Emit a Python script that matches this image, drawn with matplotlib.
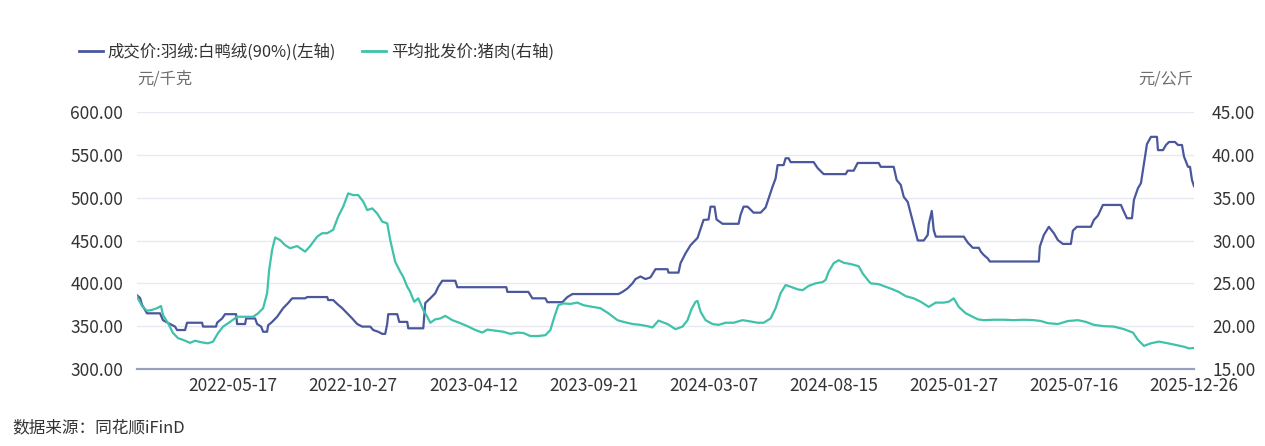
import numpy as np
import matplotlib.pyplot as plt
from matplotlib.lines import Line2D

plt.rcParams['font.family'] = ['Noto Sans CJK SC', 'DejaVu Sans']

# x = position on the source's category axis (one step per observation)
tick_pos = [96, 216, 336, 456, 576, 696, 816, 936, 1056]
tick_lbl = ['2022-05-17', '2022-10-27', '2023-04-12', '2023-09-21', '2024-03-07',
            '2024-08-15', '2025-01-27', '2025-07-16', '2025-12-26']

# 成交价:羽绒:白鸭绒(90%), 元/千克 (left axis)
down_x = [0, 3, 5, 10, 23, 26, 33, 38, 40, 48, 50, 65, 66, 79, 80, 85, 88, 99, 100, 108,
          109, 118, 120, 124, 126, 130, 131, 135, 140, 143, 146, 151, 155, 168, 170, 190,
          191, 196, 200, 205, 210, 215, 220, 225, 233, 236, 241, 245, 248, 250, 251, 260,
          262, 270, 271, 286, 288, 293, 298, 301, 305, 318, 320, 369, 370, 391, 395, 408,
          410, 425, 430, 435, 481, 485, 490, 495, 498, 503, 508, 513, 518, 530, 531, 541,
          543, 548, 553, 560, 566, 571, 573, 577, 579, 585, 601, 603, 606, 610, 616, 623,
          628, 631, 635, 638, 640, 646, 648, 651, 653, 676, 680, 686, 708, 710, 716, 720,
          741, 743, 756, 759, 763, 766, 770, 773, 777, 780, 786, 790, 791, 794, 796, 798,
          826, 830, 835, 841, 843, 846, 850, 852, 901, 902, 906, 911, 916, 920, 925, 933,
          935, 939, 953, 956, 960, 965, 983, 986, 989, 994, 996, 1000, 1003, 1006, 1009,
          1013, 1019, 1020, 1025, 1028, 1031, 1037, 1040, 1044, 1046, 1050, 1052, 1054,
          1056]
down_y = [386, 383, 375, 365, 365, 357, 352.5, 349.5, 345.5, 345.5, 354, 354, 349.5, 349.5,
          354, 359, 364, 364, 352.5, 352.5, 359, 359, 352.5, 349.5, 343.5, 343.5, 351, 355,
          361, 366, 371, 377, 382.5, 382.5, 384, 384, 380.5, 380.5, 376, 371, 365, 359,
          352.5, 349.5, 349.5, 345.5, 343.5, 341, 341, 353, 364, 364, 355, 355, 347.5, 347.5,
          377, 382.5, 388.5, 396, 403, 403, 395.5, 395.5, 390, 390, 382.5, 382.5, 378, 378,
          384, 387.5, 387.5, 390, 394, 400, 405, 408, 405, 407, 416.5, 416.5, 412.5, 412.5,
          423.5, 435, 444.5, 453, 474, 474.5, 489.5, 489.5, 474.5, 469.5, 469.5, 480, 489.5,
          489.5, 482.5, 482.5, 488.5, 499, 513, 522.5, 538, 538, 546, 546, 541.5, 541.5,
          534.5, 527.5, 527.5, 531.5, 531.5, 540.5, 540.5, 536, 536, 520.5, 515, 501, 495,
          481.5, 464, 450, 450, 456.5, 469, 484.5, 462, 454.5, 454.5, 447.5, 441.5, 441.5,
          437, 433, 429, 425.5, 425.5, 443, 456.5, 466, 458.5, 450.5, 446, 446, 461.5, 466,
          466, 474, 479, 491.5, 491.5, 483.5, 476, 476, 497.5, 511, 517, 540, 562.5, 571,
          571, 555.5, 555.5, 561.5, 565, 565, 561.5, 561.5, 548, 536, 536, 520.5, 513.5]

# 平均批发价:猪肉, 元/公斤 (right axis)
pork_x = [0, 5, 10, 15, 20, 24, 26, 31, 36, 41,
          46, 53, 58, 65, 71, 76, 81, 86, 93, 100,
          108, 116, 121, 126, 130, 132, 135, 138, 143, 148,
          153, 160, 163, 168, 173, 180, 185, 190, 196, 201,
          206, 211, 216, 221, 226, 230, 235, 240, 245, 250,
          253, 258, 263, 266, 270, 273, 275, 277, 281, 286,
          290, 293, 298, 303, 308, 315, 323, 331, 338, 345,
          350, 360, 366, 373, 380, 386, 393, 401, 408, 413,
          417, 421, 426, 433, 440, 446, 455, 463, 471, 480,
          486, 495, 503, 510, 515, 521, 530, 538, 545, 550,
          554, 558, 560, 563, 568, 575, 581, 588, 596, 605,
          613, 620, 626, 633, 638, 643, 648, 653, 660, 665,
          671, 678, 685, 688, 691, 696, 701, 706, 713, 721,
          725, 730, 733, 741, 748, 755, 761, 768, 776, 783,
          791, 798, 806, 811, 816, 821, 828, 835, 840, 846,
          856, 866, 876, 886, 896, 903, 910, 920, 930, 940,
          948, 956, 966, 976, 986, 995, 1000, 1006, 1013, 1021,
          1030, 1038, 1046, 1051, 1056]
pork_y = [23.45, 22.35, 21.8, 21.9, 22.1, 22.35, 21.3, 20.35, 19.2, 18.6,
          18.4, 18.05, 18.3, 18.1, 18.0, 18.2, 19.2, 19.95, 20.5, 21.1,
          21.1, 21.1, 21.5, 22.1, 23.85, 26.55, 28.9, 30.35, 30.05, 29.45,
          29.1, 29.35, 29.1, 28.7, 29.35, 30.45, 30.85, 30.85, 31.25, 32.8,
          33.95, 35.5, 35.3, 35.3, 34.55, 33.55, 33.75, 33.15, 32.2, 32.0,
          30.05, 27.5, 26.35, 25.75, 24.6, 24.0, 23.4, 22.85, 23.25, 21.9,
          21.1, 20.4, 20.8, 20.9, 21.2, 20.7, 20.35, 19.95, 19.55, 19.25,
          19.6, 19.45, 19.35, 19.1, 19.25, 19.2, 18.85, 18.85, 18.95, 19.55,
          21.1, 22.45, 22.65, 22.6, 22.75, 22.45, 22.25, 22.1, 21.5, 20.7,
          20.5, 20.25, 20.15, 20.0, 19.85, 20.65, 20.25, 19.65, 19.95, 20.7,
          22.0, 22.85, 22.95, 21.7, 20.7, 20.25, 20.15, 20.4, 20.4, 20.7,
          20.55, 20.4, 20.4, 20.9, 22.1, 23.85, 24.8, 24.6, 24.3, 24.2,
          24.7, 25.0, 25.15, 25.4, 26.35, 27.35, 27.7, 27.4, 27.25, 27.0,
          26.15, 25.4, 25.0, 24.9, 24.6, 24.3, 24.0, 23.5, 23.25, 22.85,
          22.25, 22.75, 22.75, 22.85, 23.25, 22.25, 21.5, 21.1, 20.8, 20.7,
          20.75, 20.75, 20.7, 20.75, 20.7, 20.6, 20.35, 20.25, 20.6, 20.7,
          20.5, 20.15, 20.0, 19.95, 19.65, 19.25, 18.4, 17.7, 18.0, 18.2,
          18.0, 17.8, 17.6, 17.4, 17.45]

left_ticks = [300, 350, 400, 450, 500, 550, 600]
right_ticks = [15, 20, 25, 30, 35, 40, 45]

BLUE = '#4a579c'
TEAL = '#3fc2a9'
TXT = '#333333'

fig = plt.figure(figsize=(12.65, 4.46), dpi=100)
ax = fig.add_axes([137 / 1265, 77 / 446, 1057 / 1265, 257 / 446])
ax2 = ax.twinx()

ax.plot(down_x, down_y, color=BLUE, lw=1.6, solid_joinstyle='round')
ax2.plot(pork_x, pork_y, color=TEAL, lw=1.6, solid_joinstyle='round')

ax.set_xlim(0, 1056)
ax.set_ylim(300, 600)
ax2.set_ylim(15, 45)
ax.set_yticks(left_ticks)
ax.set_yticklabels([f'{v:.2f}' for v in left_ticks])
ax2.set_yticks(right_ticks)
ax2.set_yticklabels([f'{v:.2f}' for v in right_ticks])
ax.set_xticks(tick_pos)
ax.set_xticklabels(tick_lbl)

ax.yaxis.grid(True, color='#e8e9f3', lw=1)
ax.set_axisbelow(True)
for a in (ax, ax2):
    for s in ('top', 'left', 'right', 'bottom'):
        a.spines[s].set_visible(False)
ax.spines['bottom'].set_visible(True)
ax.spines['bottom'].set_color('#97a0bf')
ax.spines['bottom'].set_linewidth(1.6)

ax.tick_params(axis='x', length=0, pad=6, labelsize=12.5, labelcolor=TXT)
ax.tick_params(axis='y', length=0, pad=10, labelsize=12.5, labelcolor=TXT)
ax2.tick_params(axis='y', length=0, pad=13, labelsize=12.5, labelcolor=TXT)

handles = [Line2D([], [], color=BLUE, lw=2), Line2D([], [], color=TEAL, lw=2)]
fig.legend(handles, ['成交价:羽绒:白鸭绒(90%)(左轴)', '平均批发价:猪肉(右轴)'],
           loc='center left', bbox_to_anchor=(79 / 1265, 1 - 52 / 446), ncol=2,
           frameon=False, fontsize=11.8, handlelength=1.46, handletextpad=0.3,
           columnspacing=1.6, borderpad=0, borderaxespad=0, labelcolor=TXT)

fig.text(137 / 1265, 1 - 79 / 446, '元/千克', fontsize=11.7, color='#6e6e6e',
         ha='left', va='center')
fig.text(1193 / 1265, 1 - 79 / 446, '元/公斤', fontsize=11.7, color='#6e6e6e',
         ha='right', va='center')
fig.text(12 / 1265, 1 - 428 / 446, '数据来源：同花顺iFinD', fontsize=12, color=TXT,
         ha='left', va='center')

fig.savefig('out.png', dpi=100)
